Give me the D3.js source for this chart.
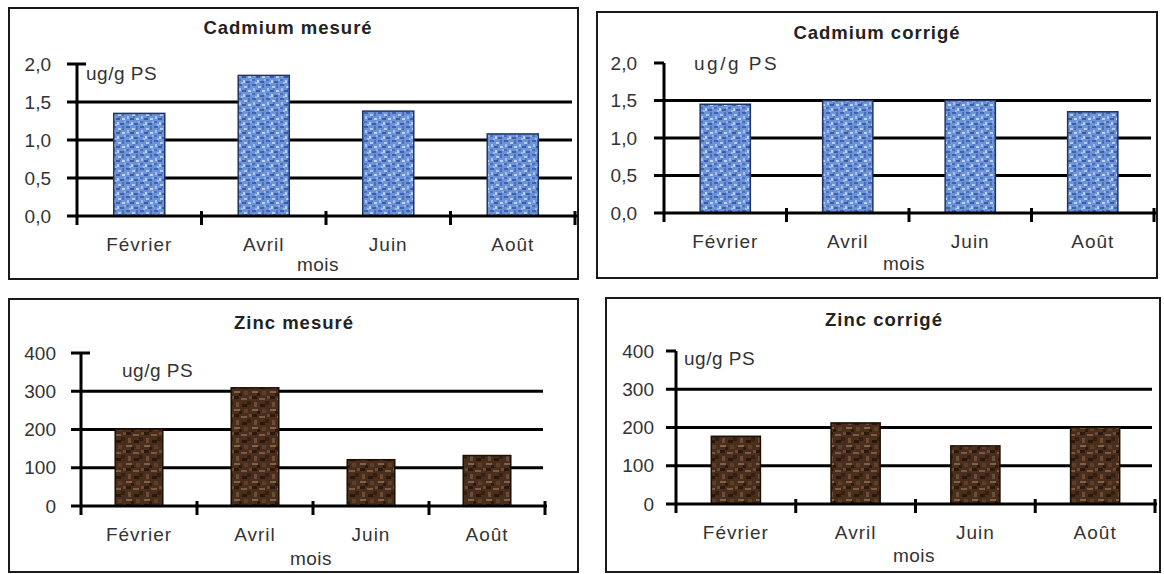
<!DOCTYPE html>
<html>
<head>
<meta charset="utf-8">
<script src="https://cdn.jsdelivr.net/npm/d3@7"></script>
<style>
  body { margin: 0; background: #fff; }
  svg text { font-family: Arial, "Liberation Sans", sans-serif; fill: #333; }
  .title { font-weight: bold; font-size: 18.5px; letter-spacing: 1px; fill: #222; }
  .unit { font-size: 19px; letter-spacing: 0.5px; }
  .mois { font-size: 19px; letter-spacing: 0.5px; }
</style>
</head>
<body>
<svg id="chart" width="1164" height="574"></svg>
<script>
// data
var months = ["Février", "Avril", "Juin", "Août"];
var cdMesure = [1.35, 1.85, 1.38, 1.08];
var cdCorrige = [1.45, 1.50, 1.50, 1.35];
var znMesure = [201, 309, 121, 132];
var znCorrige = [177, 212, 152, 200];
var cdTicks = [0, 0.5, 1, 1.5, 2];
var znTicks = [0, 100, 200, 300, 400];
var titles = ["Cadmium mesuré", "Cadmium corrigé", "Zinc mesuré", "Zinc corrigé"];
var unitText = "ug/g PS";
var xText = "mois";

var svg = d3.select("#chart");
svg.append("rect").attr("width", 1164).attr("height", 574).attr("fill", "#fff");

var frFormat = d3.formatLocale({ decimal: ",", thousands: " ", grouping: [3], currency: ["", "€"] });

// textures for the bars
var defs = svg.append("defs");

var blue = defs.append("pattern").attr("id", "bluePat")
    .attr("patternUnits", "userSpaceOnUse").attr("width", 14).attr("height", 14);
blue.append("rect").attr("width", 14).attr("height", 14).attr("fill", "#6c93d8");
[[0, 0, 4, 2, "#3f63ae"], [6, 2, 3, 2, "#b4cbf2"], [10, 0, 2, 4, "#4a70bb"], [1, 4, 2, 3, "#a7c1ee"],
 [4, 6, 4, 2, "#3a5ca6"], [10, 6, 3, 2, "#c0d4f5"], [0, 9, 3, 2, "#4b6fb8"], [5, 10, 2, 3, "#b9cff3"],
 [8, 11, 4, 2, "#3c60ab"], [12, 9, 2, 2, "#8fb0e8"], [3, 12, 2, 2, "#9ab8eb"], [7, 4, 2, 2, "#5578c0"]]
  .forEach(function(s) {
    blue.append("rect").attr("x", s[0]).attr("y", s[1]).attr("width", s[2]).attr("height", s[3]).attr("fill", s[4]);
  });

var brown = defs.append("pattern").attr("id", "brownPat")
    .attr("patternUnits", "userSpaceOnUse").attr("width", 18).attr("height", 18);
brown.append("rect").attr("width", 18).attr("height", 18).attr("fill", "#4a2e1d");
[[0, 0, 5, 3, "#2c190d"], [7, 2, 6, 2, "#7a5a40"], [13, 5, 4, 4, "#33200f"], [2, 6, 3, 5, "#6d4d35"],
 [8, 8, 5, 3, "#2a170b"], [0, 13, 6, 2, "#826349"], [10, 13, 4, 4, "#5e3f28"], [15, 0, 3, 3, "#6a4a32"],
 [5, 15, 3, 3, "#2f1b0e"]]
  .forEach(function(s) {
    brown.append("rect").attr("x", s[0]).attr("y", s[1]).attr("width", s[2]).attr("height", s[3]).attr("fill", s[4]);
  });

function drawPanel(p) {
    var g = svg.append("g");

    g.append("rect")
        .attr("x", p.fx).attr("y", p.fy).attr("width", p.fw).attr("height", p.fh)
        .attr("fill", "#fff").attr("stroke", "#1a1a1a").attr("stroke-width", 2);

    var x = d3.scaleBand().domain(months)
        .range([p.axisX, p.xEnd])
        .paddingInner(0.59).paddingOuter(0.295);
    var xb = d3.scaleLinear().domain([0, months.length]).range([p.axisX, p.xEnd]);
    var y = d3.scaleLinear().domain([0, p.ticks[p.ticks.length - 1]]).range([p.y0, p.yTop]);

    // horizontal grid lines (behind bars)
    g.selectAll(".grid")
        .data(p.ticks.filter(function(d, i) { return i > 0 && i < p.ticks.length - 1; }))
        .enter().append("line")
        .attr("x1", p.axisX - 10).attr("x2", p.gridEnd)
        .attr("y1", function(d) { return y(d); })
        .attr("y2", function(d) { return y(d); })
        .attr("stroke", "#000").attr("stroke-width", 3);

    // bars
    g.selectAll(".bar")
        .data(p.values)
        .enter().append("rect")
        .attr("x", function(d, i) { return x(months[i]); })
        .attr("y", function(d) { return y(d); })
        .attr("width", x.bandwidth())
        .attr("height", function(d) { return p.y0 - y(d); })
        .attr("fill", p.fill)
        .attr("stroke", p.edge).attr("stroke-width", 1.5);

    // x axis line + boundary ticks
    g.append("line")
        .attr("x1", p.axisX - 10).attr("x2", p.xEnd + 2)
        .attr("y1", p.y0).attr("y2", p.y0)
        .attr("stroke", "#000").attr("stroke-width", 3);
    g.selectAll(".xtick")
        .data(d3.range(1, months.length + 1))
        .enter().append("line")
        .attr("x1", function(d) { return xb(d); })
        .attr("x2", function(d) { return xb(d); })
        .attr("y1", p.y0 - 5).attr("y2", p.y0 + 9)
        .attr("stroke", "#000").attr("stroke-width", 3);

    // y axis line + top tick
    g.append("line")
        .attr("x1", p.axisX).attr("x2", p.axisX)
        .attr("y1", p.yTop).attr("y2", p.y0 + 9)
        .attr("stroke", "#000").attr("stroke-width", 3);
    g.append("line")
        .attr("x1", p.axisX - 10).attr("x2", p.axisX + (p.topTickRight ? 9 : 0))
        .attr("y1", p.yTop).attr("y2", p.yTop)
        .attr("stroke", "#000").attr("stroke-width", 3);

    // tick labels
    var yAxis = g.append("g")
        .attr("transform", "translate(" + p.axisX + ",0)")
        .call(d3.axisLeft(y).tickValues(p.ticks).tickSize(0).tickPadding(p.pad).tickFormat(p.fmt));
    yAxis.select(".domain").remove();
    yAxis.selectAll("text").style("font-size", "19px").style("font-family", "Arial, 'Liberation Sans', sans-serif")
        .attr("fill", "#333");

    var xAxis = g.append("g")
        .attr("transform", "translate(0," + p.y0 + ")")
        .call(d3.axisBottom(x).tickSize(0).tickPadding(p.labelPad));
    xAxis.select(".domain").remove();
    xAxis.selectAll("text").style("font-size", "19px").style("letter-spacing", "1px")
        .style("font-family", "Arial, 'Liberation Sans', sans-serif").attr("fill", "#333");

    g.append("text").attr("class", "title")
        .attr("x", p.titleX).attr("y", p.titleY)
        .attr("text-anchor", "middle")
        .text(p.title);

    g.append("text").attr("class", "unit")
        .attr("x", p.unitX).attr("y", p.unitY)
        .style("letter-spacing", p.unitSpacing + "px")
        .text(unitText);

    g.append("text").attr("class", "mois")
        .attr("x", p.moisX).attr("y", p.moisY)
        .attr("text-anchor", "middle")
        .text(xText);
}

var cdFmt = frFormat.format(".1f");
var znFmt = d3.format("d");

drawPanel({
    fx: 9, fy: 8, fw: 569, fh: 271,
    axisX: 77, xEnd: 575, gridEnd: 572, y0: 216, yTop: 64,
    values: cdMesure, ticks: cdTicks, fmt: cdFmt, pad: 26, labelPad: 22,
    fill: "url(#bluePat)", edge: "#1f3566", topTickRight: true,
    title: titles[0], titleX: 288, titleY: 34,
    unitX: 86, unitY: 80, unitSpacing: 0.5, moisX: 318, moisY: 271
});

drawPanel({
    fx: 597, fy: 12, fw: 560, fh: 266,
    axisX: 664, xEnd: 1154, gridEnd: 1151, y0: 213, yTop: 63,
    values: cdCorrige, ticks: cdTicks, fmt: cdFmt, pad: 27, labelPad: 22,
    fill: "url(#bluePat)", edge: "#1f3566", topTickRight: false,
    title: titles[1], titleX: 877, titleY: 39,
    unitX: 694, unitY: 70, unitSpacing: 2.5, moisX: 904, moisY: 270
});

drawPanel({
    fx: 9, fy: 299, fw: 569, fh: 273,
    axisX: 81, xEnd: 545, gridEnd: 543, y0: 506, yTop: 353,
    values: znMesure, ticks: znTicks, fmt: znFmt, pad: 25, labelPad: 22,
    fill: "url(#brownPat)", edge: "#1c0f06", topTickRight: true,
    title: titles[2], titleX: 294, titleY: 329,
    unitX: 122, unitY: 377, unitSpacing: 0.5, moisX: 311, moisY: 565
});

drawPanel({
    fx: 606, fy: 298, fw: 554, fh: 274,
    axisX: 676, xEnd: 1155, gridEnd: 1152, y0: 504, yTop: 351,
    values: znCorrige, ticks: znTicks, fmt: znFmt, pad: 22, labelPad: 22,
    fill: "url(#brownPat)", edge: "#1c0f06", topTickRight: false,
    title: titles[3], titleX: 884, titleY: 326,
    unitX: 684, unitY: 365, unitSpacing: 0.5, moisX: 914, moisY: 562
});
</script>
</body>
</html>
